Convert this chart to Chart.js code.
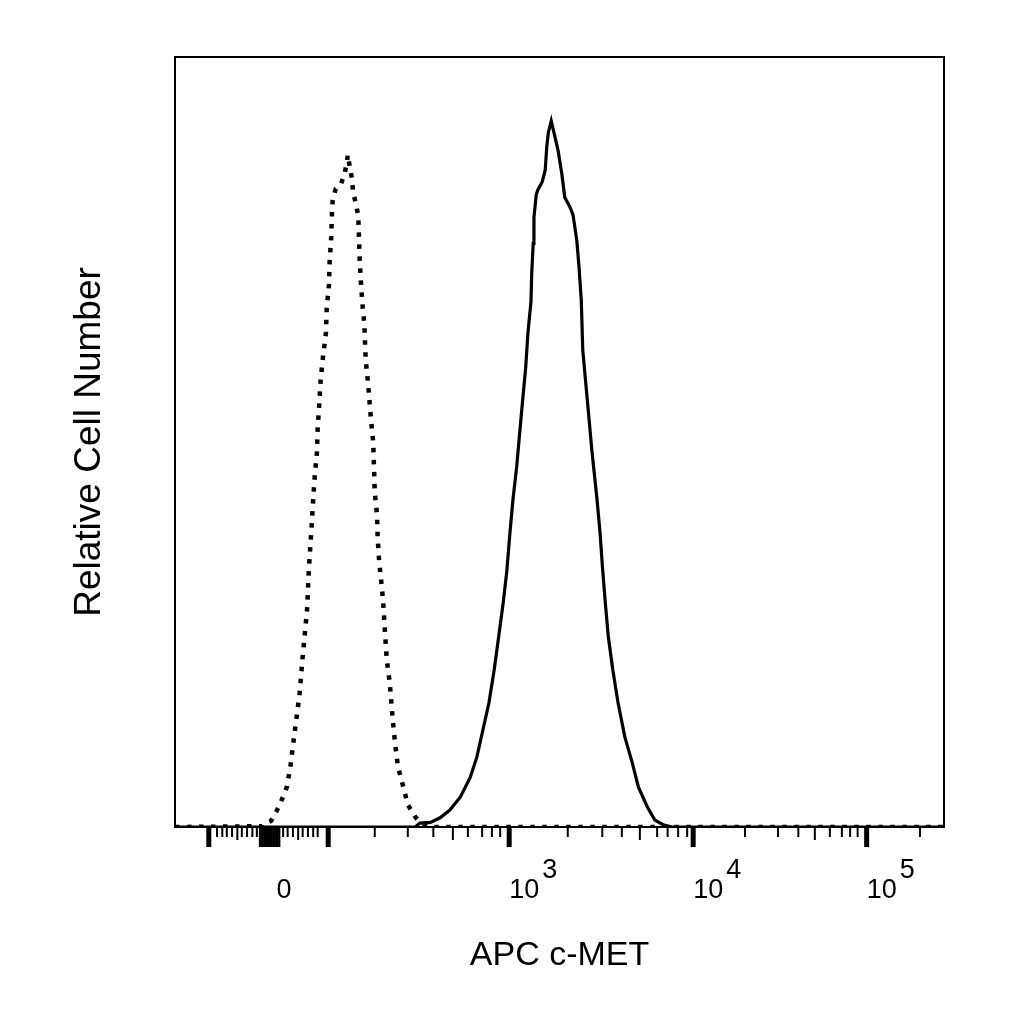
<!DOCTYPE html>
<html><head><meta charset="utf-8">
<style>html,body{margin:0;padding:0;background:#fff;}</style>
<script src="https://cdn.jsdelivr.net/npm/chart.js@4/dist/chart.umd.min.js"></script>
</head><body>
<canvas id="c" width="1024" height="1024"></canvas>
<script>
// Histogram data in display channels (0-1024) vs relative cell number (0-100)
const isotypeX = [0,116,117,128,136,142,149,154,158,162,166,170,173,176,178,180,182,184,186,189,190,192,194,197,201,202,205,206,208,209,210,214,221,226,229,230,233,236,237,241,244,245,246,248,250,252,254,257,261,264,265,266,269,270,272,274,277,280,282,286,290,293,297,304,310,320,326,337,345,1024];
const isotypeY = [0,0.1,0.3,0.8,2.2,3.5,5.2,8.1,11.3,14.3,17.4,22.1,25.2,28.4,33.0,36.2,39.2,42.5,45.5,48.6,51.8,54.8,58.1,61.0,64.2,67.4,70.4,73.6,76.6,79.7,81.4,82.9,83.5,84.9,86.4,87.3,85.6,84.0,82.5,80.9,79.4,76.5,73.4,70.1,67.4,65.5,60.6,57.7,52.9,49.9,46.6,43.5,40.5,37.3,34.3,32.5,29.5,24.7,21.7,18.7,13.9,10.9,7.8,5.2,2.9,1.3,0.6,0.1,0,0];
const cmetX = [0,320,326,340,353,366,380,393,402,410,418,425,431,437,442,446,450,455,459,463,467,470,474,475,477,478,481,483,489,493,495,497,501,506,510,515,519,526,530,535,538,541,543,549,555,562,566,569,573,577,583,590,599,609,617,629,639,650,662,1024];
const cmetY = [0,0,0.5,0.6,1.2,2.2,3.9,6.4,9.1,12.6,16.1,20.4,24.7,29.1,33.4,38.2,42.5,46.8,51.2,55.5,59.7,64.2,68.2,71.9,75.8,79.2,82.1,82.7,83.8,85.3,88.3,90.1,91.7,89.6,87.9,84.9,81.8,80.5,79.5,76.2,72.7,68.4,61.9,55.5,49.0,42.5,38.2,34.0,29.1,24.7,20.4,16.1,11.7,8.3,5.2,2.6,0.9,0.3,0,0];

// Biexponential axis ticks, in display channels
const majorTicks = [45,124,204,445,690,921];           // -10^2, 0, 10^2, 10^3, 10^4, 10^5
const zeroBlockTicks = [113,115,117,119,121,123,125,127,129,131,133,135,137,139];
const minorTicks = [56,63,69,76,89,96,103,109,144,150,157,170,177,184,190,266,310,344,390,409,422,433,523,569,595,642,656,670,682,759,803,830,872,888,899,909,992];
const midTicks = [83,164,370,619,852];                  // 5x ticks (slightly longer)
const tickLabelValues = [124,445,690,921];
const tickLabelBase = ['0','10','10','10'];
const tickLabelExp = ['','3','4','5'];

const FONT = '"Liberation Sans", Arial, Helvetica, sans-serif';

const axisPlugin = {
  id: 'flowAxis',
  afterDraw(chart) {
    const {ctx, chartArea: a} = chart;
    const xs = chart.scales.x;
    ctx.save();
    ctx.strokeStyle = '#000';
    ctx.lineWidth = 2;
    ctx.strokeRect(a.left, a.top, a.right - a.left, a.bottom - a.top);
    ctx.fillStyle = '#000';
    const y0 = a.bottom;
    majorTicks.forEach(v => { const p = xs.getPixelForValue(v); ctx.fillRect(p - 2.5, y0, 5, 20); });
    zeroBlockTicks.forEach(v => { const p = xs.getPixelForValue(v); ctx.fillRect(p - 1, y0, 2, 20); });
    minorTicks.forEach(v => { const p = xs.getPixelForValue(v); ctx.fillRect(p - 1, y0, 2, 10); });
    midTicks.forEach(v => { const p = xs.getPixelForValue(v); ctx.fillRect(p - 1, y0, 2, 13); });
    ctx.font = '27px ' + FONT;
    ctx.textBaseline = 'alphabetic';
    tickLabelValues.forEach((v, i) => {
      const p = xs.getPixelForValue(v);
      if (!tickLabelExp[i]) {
        ctx.textAlign = 'center';
        ctx.fillText(tickLabelBase[i], p + 16, 898);
      } else {
        ctx.textAlign = 'left';
        ctx.fillText(tickLabelBase[i], p, 898);
        const w = ctx.measureText(tickLabelBase[i]).width;
        ctx.fillText(tickLabelExp[i], p + w + 3, 878);
      }
    });
    ctx.restore();
  }
};

new Chart(document.getElementById('c'), {
  type: 'line',
  data: {
    datasets: [
      { label: 'c-MET', data: cmetX.map((x, i) => ({x, y: cmetY[i]})), borderColor: '#000', borderWidth: 3.2, pointRadius: 0, tension: 0, fill: false },
      { label: 'Isotype', data: isotypeX.map((x, i) => ({x, y: isotypeY[i]})), borderColor: '#000', borderWidth: 4.5, borderDash: [4.5, 7.5], borderCapStyle: 'butt', pointRadius: 0, tension: 0, fill: false }
    ]
  },
  options: {
    responsive: false,
    animation: false,
    devicePixelRatio: 1,
    layout: { padding: { top: 57, right: 80, left: 0, bottom: 0 } },
    plugins: { legend: { display: false }, tooltip: { enabled: false } },
    scales: {
      x: {
        type: 'linear', min: 0, max: 1024,
        grid: { display: false }, border: { display: false }, ticks: { display: false },
        title: { display: true, text: 'APC c-MET', color: '#000', font: { family: FONT, size: 34 }, padding: { top: 0, bottom: 48 } },
        afterFit(s) { s.height = 197; }
      },
      y: {
        min: 0, max: 100,
        grid: { display: false }, border: { display: false }, ticks: { display: false },
        title: { display: true, text: 'Relative Cell Number', color: '#000', font: { family: FONT, size: 37 }, padding: { top: 68, bottom: 0 } },
        afterFit(s) { s.width = 175; }
      }
    }
  },
  plugins: [axisPlugin]
});
</script>
</body></html>
